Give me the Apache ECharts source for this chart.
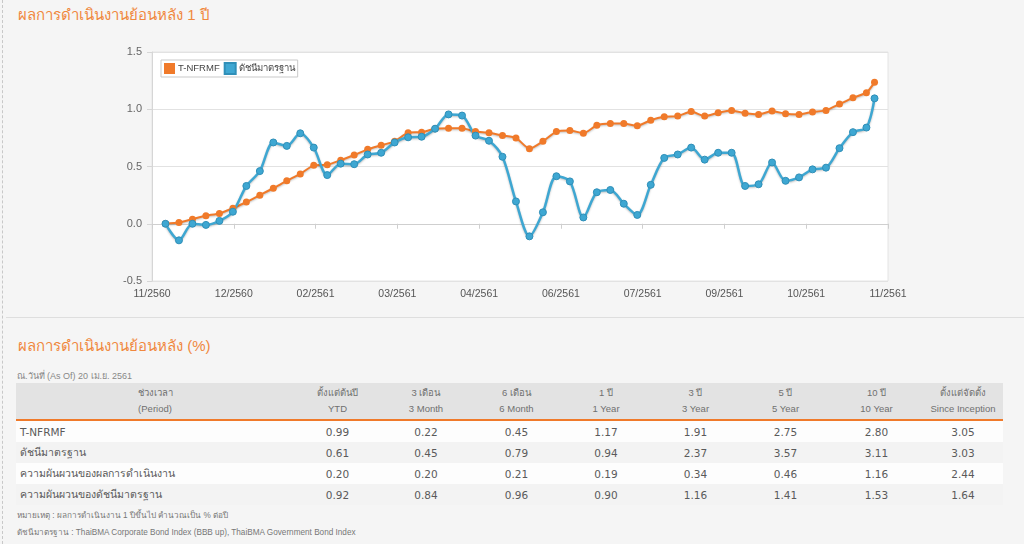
<!DOCTYPE html>
<html>
<head>
<meta charset="utf-8">
<title>T-NFRMF</title>
<script src="https://cdn.jsdelivr.net/npm/echarts@6/dist/echarts.min.js"></script>
<style>
    body{margin:0;background:#f5f5f5;}
    #page{position:relative;width:1024px;height:544px;overflow:hidden;background:#f5f5f5;font-family:"DejaVu Sans",sans-serif;}
    #edge{position:absolute;left:2px;top:0;width:0;height:544px;border-left:1px dashed #c8c8c8;}
    .head{position:absolute;left:18px;color:#f0883e;font-size:15px;font-family:"Liberation Sans",sans-serif;white-space:nowrap;}
    #sep{position:absolute;left:6px;top:317px;width:1018px;height:0;border-top:1px solid #dedede;}
    #chart{position:absolute;left:0;top:0;width:1024px;height:310px;}
    #asof{position:absolute;left:17px;top:369px;font-size:9px;color:#888;font-family:"Liberation Sans",sans-serif;}
    #tbl{position:absolute;left:16px;top:383px;border-collapse:collapse;table-layout:fixed;}
    #tbl th{background:#e3e3e3;color:#707070;font-weight:normal;font-size:9.5px;line-height:16px;height:36px;padding:0;text-align:center;border-bottom:2px solid #f07a2a;font-family:"Liberation Sans",sans-serif;}
    #tbl td{height:21px;padding:0;font-size:10.5px;color:#5a5a5a;text-align:center;}
    #tbl td.name{text-align:left;padding-left:4px;}
    #tbl tr.odd td{background:#fdfdfd;}
    #tbl tr.even td{background:#f3f3f3;}
    .note{position:absolute;left:17px;font-size:8.2px;color:#777;font-family:"Liberation Sans",sans-serif;white-space:nowrap;}
</style>
</head>
<body>
<div id="page">
    <div id="edge"></div>
    <div class="head" style="top:3px">ผลการดำเนินงานย้อนหลัง 1 ปี</div>
    <div id="chart"></div>
    <div id="sep"></div>
    <div class="head" style="top:334px">ผลการดำเนินงานย้อนหลัง (%)</div>
    <div id="asof">ณ.วันที่ (As Of) 20 เม.ย. 2561</div>
    <table id="tbl"></table>
    <div class="note" style="top:509px">หมายเหตุ : ผลการดำเนินงาน 1 ปีขึ้นไป คำนวณเป็น % ต่อปี</div>
    <div class="note" style="top:526px">ดัชนีมาตรฐาน : ThaiBMA Corporate Bond Index (BBB up), ThaiBMA Government Bond Index</div>
</div>
<script>
// ป้ายแกน x
var xTickLabels = ['11/2560','12/2560','02/2561','03/2561','04/2561','06/2561','07/2561','09/2561','10/2561','11/2561'];
// ลำดับสัปดาห์ (จุดสุดท้ายไม่ครบสัปดาห์)
var weekNo = [1,2,3,4,5,6,7,8,9,10,11,12,13,14,15,16,17,18,19,20,21,22,23,24,25,26,27,
    28,29,30,31,32,33,34,35,36,37,38,39,40,41,42,43,44,45,46,47,48,49,50,51,52,53,53.6];
var fundLine = [0.00,0.01,0.04,0.07,0.09,0.135,0.19,0.25,0.31,0.375,0.435,0.51,0.515,0.555,0.60,0.65,0.685,0.72,
    0.795,0.80,0.83,0.835,0.835,0.805,0.795,0.77,0.75,0.655,0.72,0.805,0.815,0.79,0.86,0.875,0.875,0.855,
    0.905,0.935,0.94,0.98,0.94,0.97,0.99,0.965,0.955,0.985,0.96,0.955,0.977,0.99,1.045,1.10,1.145,1.235];
var benchLine = [0.00,-0.145,0.00,-0.01,0.025,0.105,0.33,0.46,0.71,0.68,0.79,0.665,0.425,0.525,0.52,0.605,0.62,0.71,
    0.755,0.76,0.83,0.955,0.945,0.77,0.725,0.585,0.195,-0.11,0.10,0.415,0.37,0.055,0.275,0.295,0.175,0.077,
    0.34,0.575,0.605,0.665,0.56,0.62,0.62,0.33,0.345,0.535,0.375,0.405,0.475,0.49,0.66,0.80,0.84,1.095];
var seriesNames = ['T-NFRMF','ดัชนีมาตรฐาน'];
var xMax = 54.6;

// ตาราง
var periodTh = ['ช่วงเวลา','ตั้งแต่ต้นปี','3 เดือน','6 เดือน','1 ปี','3 ปี','5 ปี','10 ปี','ตั้งแต่จัดตั้ง'];
var periodEn = ['(Period)','YTD','3 Month','6 Month','1 Year','3 Year','5 Year','10 Year','Since Inception'];
var rowNames = ['T-NFRMF','ดัชนีมาตรฐาน','ความผันผวนของผลการดำเนินงาน','ความผันผวนของดัชนีมาตรฐาน'];
var fundRet  = ['0.99','0.22','0.45','1.17','1.91','2.75','2.80','3.05'];
var benchRet = ['0.61','0.45','0.79','0.94','2.37','3.57','3.11','3.03'];
var fundSd   = ['0.20','0.20','0.21','0.19','0.34','0.46','1.16','2.44'];
var benchSd  = ['0.92','0.84','0.96','0.90','1.16','1.41','1.53','1.64'];
var colWidths = [278,87,90,91,88,91,89,93,80];

function toPairs(vals) {
    var out = [];
    for (var i = 0; i < vals.length; i++) out.push([weekNo[i], vals[i]]);
    return out;
}

var lineShadow = {shadowColor:'rgba(0,0,0,0.25)', shadowBlur:2, shadowOffsetY:1};
var myChart = echarts.init(document.getElementById('chart'));
myChart.setOption({
    animation:false,
    color:['#f07a2a','#3ea7d2'],
    textStyle:{fontFamily:'Liberation Sans'},
    legend:{
        data:seriesNames,
        left:161, top:60,
        icon:'rect', itemWidth:11, itemHeight:11, itemGap:4,
        padding:[2,3], borderColor:'#c9c9c9', borderWidth:1, backgroundColor:'#fff',
        textStyle:{fontSize:9.5, color:'#444', padding:[0,0,0,-2]}
    },
    grid:{left:152, right:136, top:52, bottom:29, show:true, backgroundColor:'#fff', borderColor:'#e4e4e4', borderWidth:1},
    xAxis:{
        type:'value', min:0, max:xMax, interval:xMax/9,
        axisLine:{lineStyle:{color:'#cfcfcf'}},
        axisTick:{show:true, length:5, lineStyle:{color:'#cfcfcf'}},
        splitLine:{show:false},
        axisLabel:{color:'#555', fontSize:10.5, margin:8, showMaxLabel:true,
            formatter:function (v) { return xTickLabels[Math.round(v / (xMax / 9))]; }}
    },
    yAxis:{
        type:'value', min:-0.5, max:1.5, interval:0.5,
        axisLine:{show:true, lineStyle:{color:'#d6d6d6'}},
        axisTick:{show:true, length:5, lineStyle:{color:'#d6d6d6'}},
        splitLine:{lineStyle:{color:'#e2e2e2'}},
        axisLabel:{color:'#666', fontSize:11, margin:10, formatter:function (v) { return v.toFixed(1); }}
    },
    series:[
        {
            name:seriesNames[0], type:'line', data:toPairs(fundLine),
            symbol:'circle', symbolSize:7, smooth:0.2,
            lineStyle:Object.assign({width:2}, lineShadow)
        },
        {
            name:seriesNames[1], type:'line', data:toPairs(benchLine),
            symbol:'circle', symbolSize:7, smooth:0.3,
            itemStyle:{borderColor:'#2f8fb8', borderWidth:1},
            lineStyle:Object.assign({width:2.5}, lineShadow)
        }
    ]
});

// สร้างตาราง
var tbl = document.getElementById('tbl');
var html = '<colgroup>';
for (var c = 0; c < colWidths.length; c++) html += '<col style="width:' + colWidths[c] + 'px">';
html += '</colgroup><tr>';
for (var h = 0; h < periodTh.length; h++) html += '<th>' + periodTh[h] + '<br>' + periodEn[h] + '</th>';
html += '</tr>';
var rows = [fundRet, benchRet, fundSd, benchSd];
for (var r = 0; r < rows.length; r++) {
    html += '<tr class="' + (r % 2 ? 'even' : 'odd') + '"><td class="name">' + rowNames[r] + '</td>';
    for (var k = 0; k < rows[r].length; k++) html += '<td>' + rows[r][k] + '</td>';
    html += '</tr>';
}
tbl.innerHTML = html;
</script>
</body>
</html>
